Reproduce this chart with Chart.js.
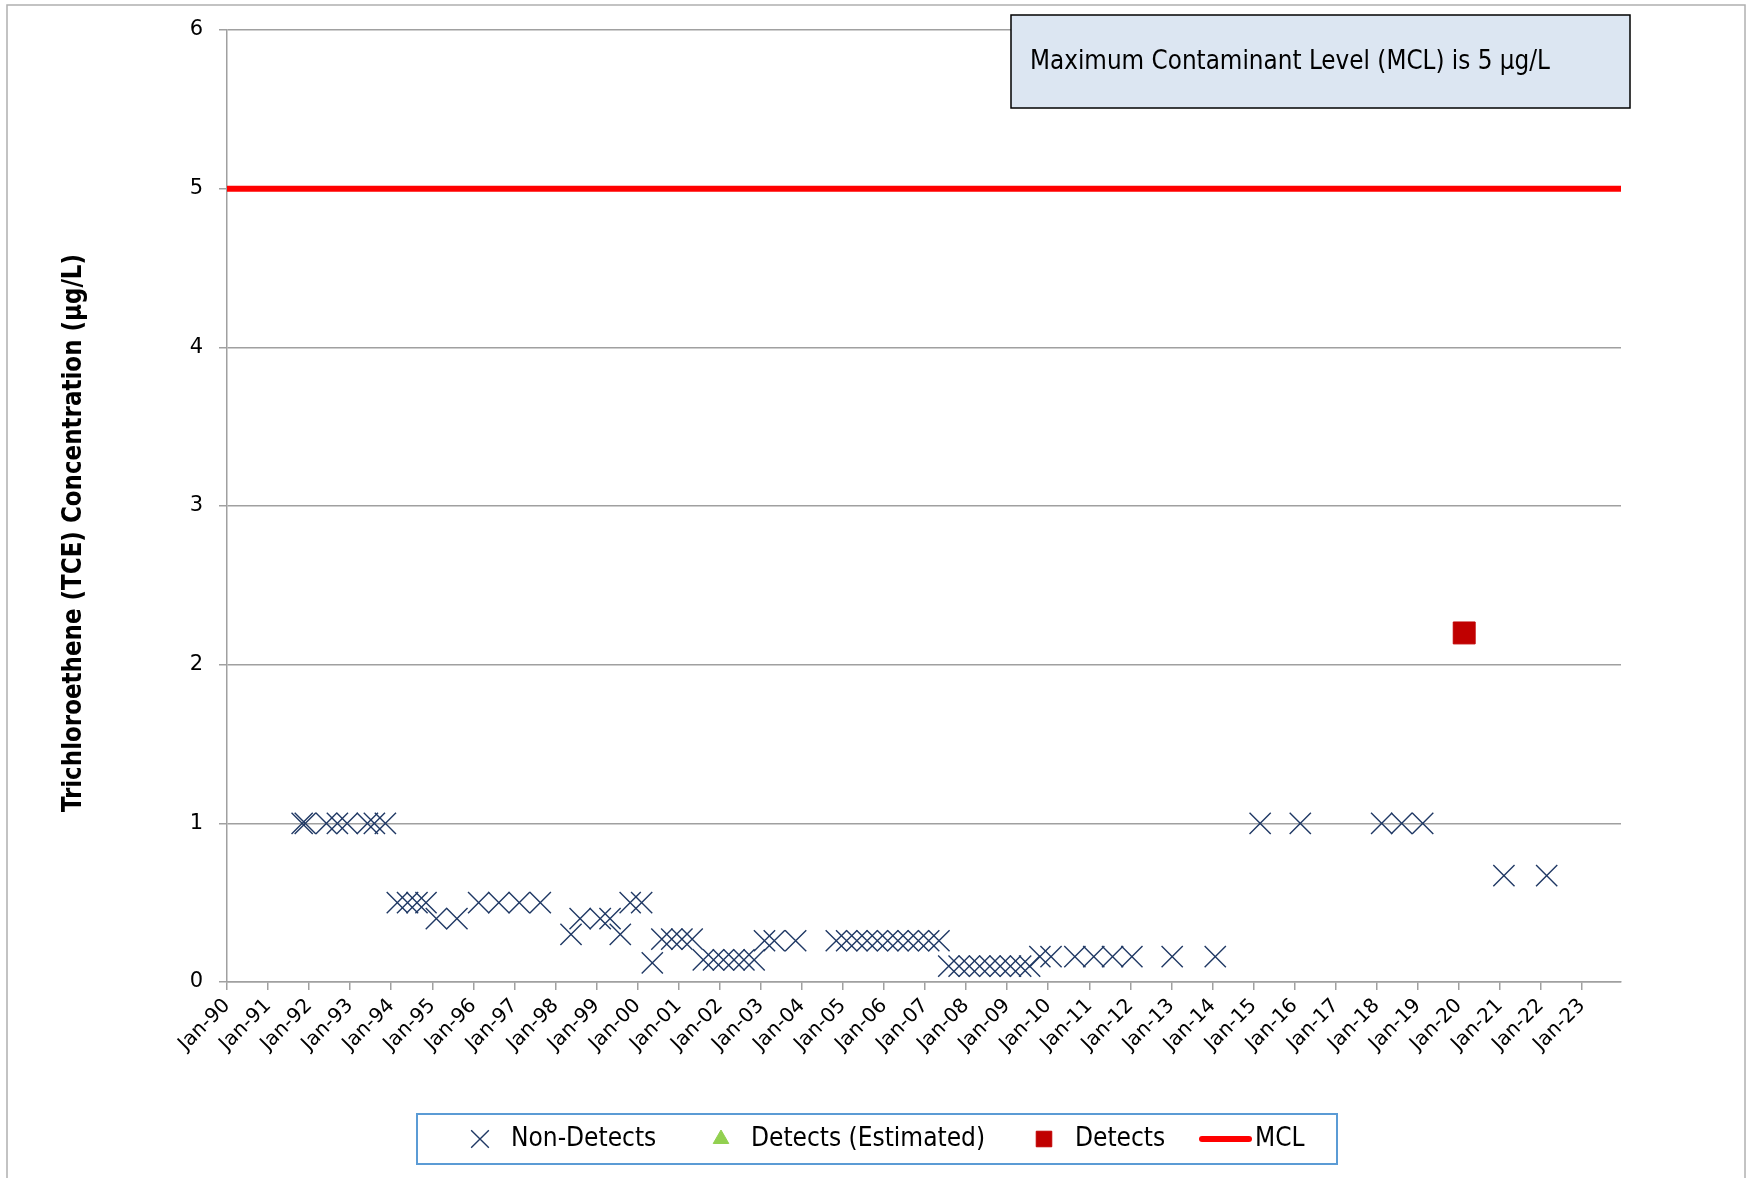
<!DOCTYPE html>
<html>
<head>
<meta charset="utf-8">
<title>TCE Concentration</title>
<script src="https://cdn.jsdelivr.net/npm/chart.js@4.4.1/dist/chart.umd.min.js"></script>
<style>
  html, body { margin: 0; padding: 0; background: #fff; }
  #wrap { position: relative; width: 1752px; height: 1178px; }
</style>
</head>
<body>
<div id="wrap"><canvas id="tceChart"></canvas></div>
<script>
// Sampling dates and TCE results (µg/L)
const nonDetectDates = [
  "1991-10-31", "1991-11-28", "1992-06-03", "1992-09-09", "1992-12-05", "1993-06-03", "1993-08-04", "1993-11-10",
  "1994-02-24", "1994-05-26", "1994-08-18", "1994-11-06", "1995-02-06", "1995-08-08",
  "1996-02-17", "1996-08-15", "1997-02-13", "1997-08-19",
  "1998-05-19", "1998-08-08", "1999-02-03", "1999-05-01", "1999-07-31", "1999-10-27", "2000-02-06",
  "2000-05-11", "2000-08-04", "2000-10-31", "2001-01-30", "2001-05-01",
  "2001-08-08", "2001-11-07", "2002-02-03", "2002-05-08", "2002-08-04", "2002-11-03",
  "2003-02-03", "2003-05-01", "2003-11-07",
  "2004-11-03", "2005-02-03", "2005-05-05", "2005-08-04", "2005-11-03", "2006-02-03",
  "2006-05-05", "2006-08-04", "2006-11-03", "2007-02-03", "2007-05-05",
  "2007-07-31", "2007-10-31", "2008-01-30", "2008-05-01", "2008-07-31", "2008-10-31",
  "2009-01-30", "2009-05-01", "2009-07-20",
  "2009-10-19", "2010-01-26", "2010-08-26", "2011-02-10", "2011-07-27", "2012-01-15",
  "2013-01-08", "2014-01-26",
  "2015-03-01", "2016-02-21", "2018-02-14", "2018-08-11", "2019-02-14",
  "2021-02-06", "2022-02-21"
];
const nonDetectValues = [
  1, 1, 1, 1, 1, 1, 1, 1,
  0.5, 0.5, 0.5, 0.5, 0.4, 0.4,
  0.5, 0.5, 0.5, 0.5,
  0.3, 0.4, 0.4, 0.4, 0.3, 0.5, 0.5,
  0.12, 0.27, 0.27, 0.27, 0.27,
  0.14, 0.14, 0.14, 0.14, 0.14, 0.14,
  0.26, 0.26, 0.26,
  0.26, 0.26, 0.26, 0.26, 0.26, 0.26,
  0.26, 0.26, 0.26, 0.26, 0.26,
  0.1, 0.1, 0.1, 0.1, 0.1, 0.1,
  0.1, 0.1, 0.1,
  0.16, 0.16, 0.16, 0.16, 0.16, 0.16,
  0.16, 0.16,
  1, 1, 1, 1, 1,
  0.67, 0.67
];
const estimatedDates = [];
const estimatedValues = [];
const detectDates = ["2020-02-18"];
const detectValues = [2.2];
const mclValue = 5;

const tickYears = [1990, 1991, 1992, 1993, 1994, 1995, 1996, 1997, 1998, 1999, 2000, 2001,
  2002, 2003, 2004, 2005, 2006, 2007, 2008, 2009, 2010, 2011, 2012, 2013, 2014, 2015, 2016,
  2017, 2018, 2019, 2020, 2021, 2022, 2023];
const yTicks = [0, 1, 2, 3, 4, 5, 6];
const xMin = 1990;
const xMax = 2023.95;

const yTitle = "Trichloroethene (TCE) Concentration (µg/L)";
const noteText = "Maximum Contaminant Level (MCL) is 5 µg/L";

// date string -> fractional year for the linear x axis
const toYear = s => {
  const [y, m, d] = s.split("-").map(Number);
  const start = Date.UTC(y, 0, 1), end = Date.UTC(y + 1, 0, 1);
  return y + (Date.UTC(y, m - 1, d) - start) / (end - start);
};
const toPoints = (dates, values) => dates.map((d, i) => ({ x: toYear(d), y: values[i] }));

const tickFont = { family: "'DejaVu Sans', Verdana, sans-serif", size: 20 };
const labelFont = "'DejaVu Sans Condensed', 'DejaVu Sans', sans-serif";
const gridGray = "#A0A0A0";

// Frame, note box, axis title and the boxed legend
const chartExtras = {
  id: "chartExtras",
  beforeDraw(chart) {
    const ctx = chart.ctx;
    ctx.save();
    ctx.fillStyle = "#fff";
    ctx.fillRect(0, 0, chart.width, chart.height);
    ctx.strokeStyle = "#B0B0B0";
    ctx.lineWidth = 1.5;
    ctx.strokeRect(7, 5, 1738, 1200);
    ctx.restore();
  },
  afterDraw(chart) {
    const ctx = chart.ctx;
    ctx.save();

    // MCL note
    ctx.fillStyle = "#DCE6F2";
    ctx.fillRect(1011, 15, 619, 93);
    ctx.strokeStyle = "#000";
    ctx.lineWidth = 1.5;
    ctx.strokeRect(1011, 15, 619, 93);
    ctx.fillStyle = "#000";
    ctx.font = "26px " + labelFont;
    ctx.textBaseline = "middle";
    ctx.textAlign = "left";
    ctx.fillText(noteText, 1030, 62, 520);

    // y axis title
    ctx.save();
    ctx.translate(74, 533);
    ctx.rotate(-Math.PI / 2);
    ctx.textAlign = "center";
    ctx.font = "bold 26px " + labelFont;
    ctx.fillText(yTitle, 0, 0, 558);
    ctx.restore();

    // legend
    const ly = 1139;
    ctx.strokeStyle = "#5B9BD5";
    ctx.lineWidth = 2;
    ctx.strokeRect(417, 1114, 920, 50);
    const ds = chart.data.datasets;
    const marks = [
      { x: 480, r: 12.5, textX: 511 },
      { x: 721, r: 9, textX: 751 },
      { x: 1044, r: 11, textX: 1075 }
    ];
    ctx.font = "26px " + labelFont;
    marks.forEach((m, i) => {
      const d = ds[i];
      ctx.fillStyle = d.backgroundColor;
      ctx.strokeStyle = d.borderColor;
      ctx.lineWidth = d.borderWidth;
      Chart.helpers.drawPoint(ctx, { pointStyle: d.pointStyle, radius: m.r, rotation: 0, borderWidth: d.borderWidth }, m.x, ly);
      ctx.fillStyle = "#000";
      ctx.fillText(d.label, m.textX, ly);
    });
    const mcl = ds[3];
    ctx.strokeStyle = mcl.borderColor;
    ctx.lineWidth = mcl.borderWidth;
    ctx.lineCap = "round";
    ctx.beginPath();
    ctx.moveTo(1202, ly);
    ctx.lineTo(1249, ly);
    ctx.stroke();
    ctx.fillStyle = "#000";
    ctx.fillText(mcl.label, 1255, ly);

    ctx.restore();
  }
};

new Chart(document.getElementById("tceChart"), {
  type: "scatter",
  data: {
    datasets: [
      {
        label: "Non-Detects",
        data: toPoints(nonDetectDates, nonDetectValues),
        pointStyle: "crossRot",
        pointRadius: 15,
        borderColor: "#1F3864",
        backgroundColor: "#1F3864",
        borderWidth: 1.4
      },
      {
        label: "Detects (Estimated)",
        data: toPoints(estimatedDates, estimatedValues),
        pointStyle: "triangle",
        pointRadius: 12,
        borderColor: "#92D050",
        backgroundColor: "#92D050",
        borderWidth: 1
      },
      {
        label: "Detects",
        data: toPoints(detectDates, detectValues),
        pointStyle: "rect",
        pointRadius: 15.5,
        borderColor: "#C00000",
        backgroundColor: "#C00000",
        borderWidth: 1
      },
      {
        label: "MCL",
        data: [{ x: xMin, y: mclValue }, { x: xMax, y: mclValue }],
        showLine: true,
        pointRadius: 0,
        borderColor: "#FF0000",
        backgroundColor: "#FF0000",
        borderWidth: 6
      }
    ]
  },
  options: {
    responsive: true,
    maintainAspectRatio: false,
    animation: false,
    layout: { padding: { top: 30, right: 131, left: 0, bottom: 0 } },
    plugins: {
      legend: { display: false },
      tooltip: { enabled: false }
    },
    scales: {
      x: {
        type: "linear",
        min: xMin,
        max: xMax,
        afterBuildTicks: scale => { scale.ticks = tickYears.map(v => ({ value: v })); },
        afterFit: scale => { scale.height = 196; },
        ticks: {
          autoSkip: false,
          minRotation: 45,
          maxRotation: 45,
          padding: 4,
          color: "#000",
          font: tickFont,
          callback: (v, i) => "Jan-" + String(tickYears[i]).slice(2)
        },
        grid: { drawOnChartArea: false, color: gridGray, lineWidth: 1.5, tickLength: 8 },
        border: { color: gridGray, width: 1.5 }
      },
      y: {
        min: 0,
        max: 6,
        afterBuildTicks: scale => { scale.ticks = yTicks.map(v => ({ value: v })); },
        afterFit: scale => { scale.width = 227; },
        ticks: { padding: 16, color: "#000", font: { family: tickFont.family, size: 21 } },
        grid: { color: gridGray, lineWidth: 1.5, tickLength: 8 },
        border: { color: gridGray, width: 1.5 }
      }
    }
  },
  plugins: [chartExtras]
});
</script>
</body>
</html>
